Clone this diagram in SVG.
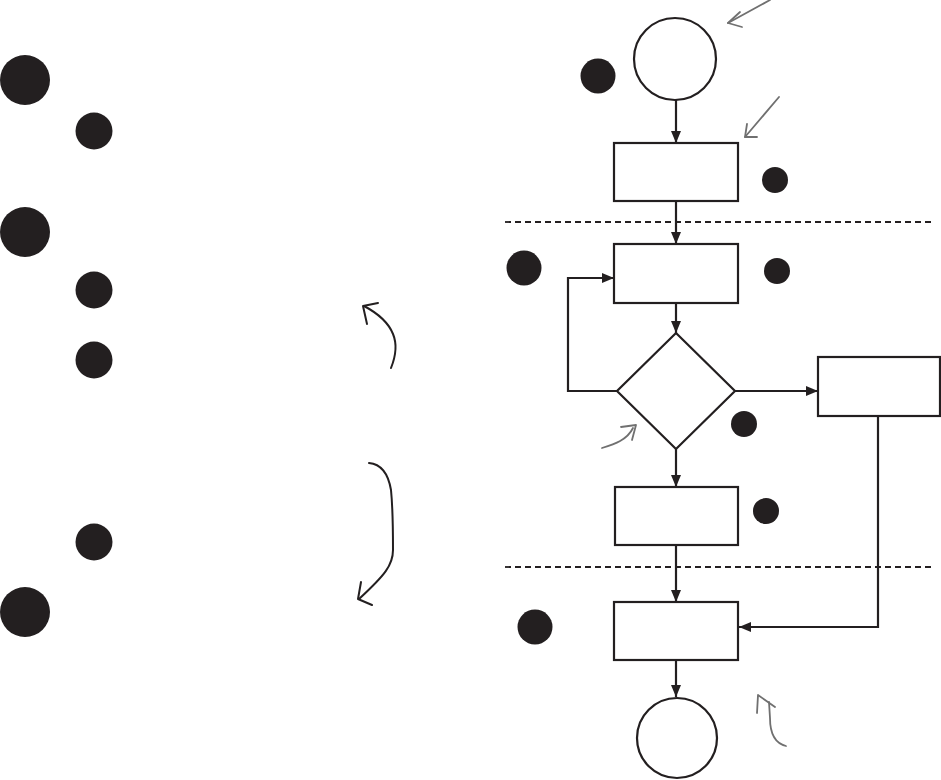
<svg xmlns="http://www.w3.org/2000/svg" width="941" height="780" viewBox="0 0 941 780">
<defs>
<marker id="ah" viewBox="0 0 12 10" refX="12" refY="5" markerWidth="12" markerHeight="10" orient="auto" markerUnits="userSpaceOnUse">
<path d="M0,0 L12,5 L0,10 z" fill="#231f20"/>
</marker>
<style>
.dot{fill:#231f20}
.shape{fill:#fff;stroke:#231f20;stroke-width:2.2}
.conn{fill:none;stroke:#231f20;stroke-width:2.2}
.dash{fill:none;stroke:#231f20;stroke-width:1.8;stroke-dasharray:6,4}
.hand{fill:none;stroke:#231f20;stroke-width:2;stroke-linecap:round;stroke-linejoin:round}
.gray{fill:none;stroke:#707070;stroke-width:1.8;stroke-linecap:round;stroke-linejoin:round}
</style>
</defs>
<rect width="941" height="780" fill="#fff"/>
<g id="bullets">
<circle class="dot" cx="25" cy="80" r="25"/>
<circle class="dot" cx="94" cy="131" r="18.5"/>
<circle class="dot" cx="25" cy="232" r="25"/>
<circle class="dot" cx="94" cy="290" r="18.5"/>
<circle class="dot" cx="94" cy="360" r="18.5"/>
<circle class="dot" cx="94" cy="542" r="18.5"/>
<circle class="dot" cx="25" cy="612" r="25"/>
</g>
<g id="hand-arrows">
<path class="hand" d="M391,368 C395,358 398,346 393,334 C389,324 381,315 364,306"/>
<path class="hand" d="M367,324 L363,306 L378,303"/>
<path class="hand" d="M369,463 C380,464 388,472 391,490 C393,510 393,535 393,550 C393,565 385,575 359,599"/>
<path class="hand" d="M361,582 L358,599 L372,605"/>
</g>
<g id="separators">
<line class="dash" x1="505" y1="222" x2="935" y2="222"/>
<line class="dash" x1="505" y1="567" x2="935" y2="567"/>
</g>
<g id="connectors">
<line class="conn" x1="676" y1="100" x2="676" y2="143" marker-end="url(#ah)"/>
<line class="conn" x1="676" y1="201" x2="676" y2="244" marker-end="url(#ah)"/>
<line class="conn" x1="676" y1="303" x2="676" y2="333" marker-end="url(#ah)"/>
<polyline class="conn" points="617,391 568,391 568,278 614,278" marker-end="url(#ah)"/>
<line class="conn" x1="735" y1="391" x2="818" y2="391" marker-end="url(#ah)"/>
<line class="conn" x1="676" y1="449" x2="676" y2="487" marker-end="url(#ah)"/>
<line class="conn" x1="676" y1="545" x2="676" y2="602" marker-end="url(#ah)"/>
<polyline class="conn" points="878,416 878,627 739,627" marker-end="url(#ah)"/>
<line class="conn" x1="676" y1="660" x2="676" y2="697" marker-end="url(#ah)"/>
</g>
<g id="start">
<circle class="shape" cx="675" cy="59" r="41"/>
<circle class="dot" cx="598" cy="76" r="17.5"/>
</g>
<g id="step1">
<rect class="shape" x="614" y="143" width="124" height="58"/>
<circle class="dot" cx="775" cy="180" r="13"/>
</g>
<g id="step2">
<rect class="shape" x="614" y="244" width="124" height="59"/>
<circle class="dot" cx="524" cy="268" r="17.5"/>
<circle class="dot" cx="777" cy="271" r="13"/>
</g>
<g id="decision">
<polygon class="shape" points="676,333 735,391 676,449 617,391"/>
<circle class="dot" cx="744" cy="424" r="13"/>
</g>
<g id="side">
<rect class="shape" x="818" y="357" width="122" height="59"/>
</g>
<g id="step3">
<rect class="shape" x="615" y="487" width="123" height="58"/>
<circle class="dot" cx="766" cy="511" r="13"/>
</g>
<g id="step4">
<rect class="shape" x="614" y="602" width="124" height="58"/>
<circle class="dot" cx="535" cy="627" r="17.5"/>
</g>
<g id="end">
<circle class="shape" cx="677" cy="738" r="40"/>
</g>
<g id="gray-arrows">
<path class="gray" d="M770,0 L728,23"/>
<path class="gray" d="M740,12 L728,23 L742,27"/>
<path class="gray" d="M779,97 L745,137"/>
<path class="gray" d="M747,124 L745,137 L757,137"/>
<path class="gray" d="M602,448 C615,444 627,440 633,428"/>
<path class="gray" d="M621,427 L636,425 L632,440"/>
<path class="gray" d="M786,746 C774,743 770,732 770,718 L769,702"/>
<path class="gray" d="M757,713 L758,695 L775,707"/>
</g>
</svg>
